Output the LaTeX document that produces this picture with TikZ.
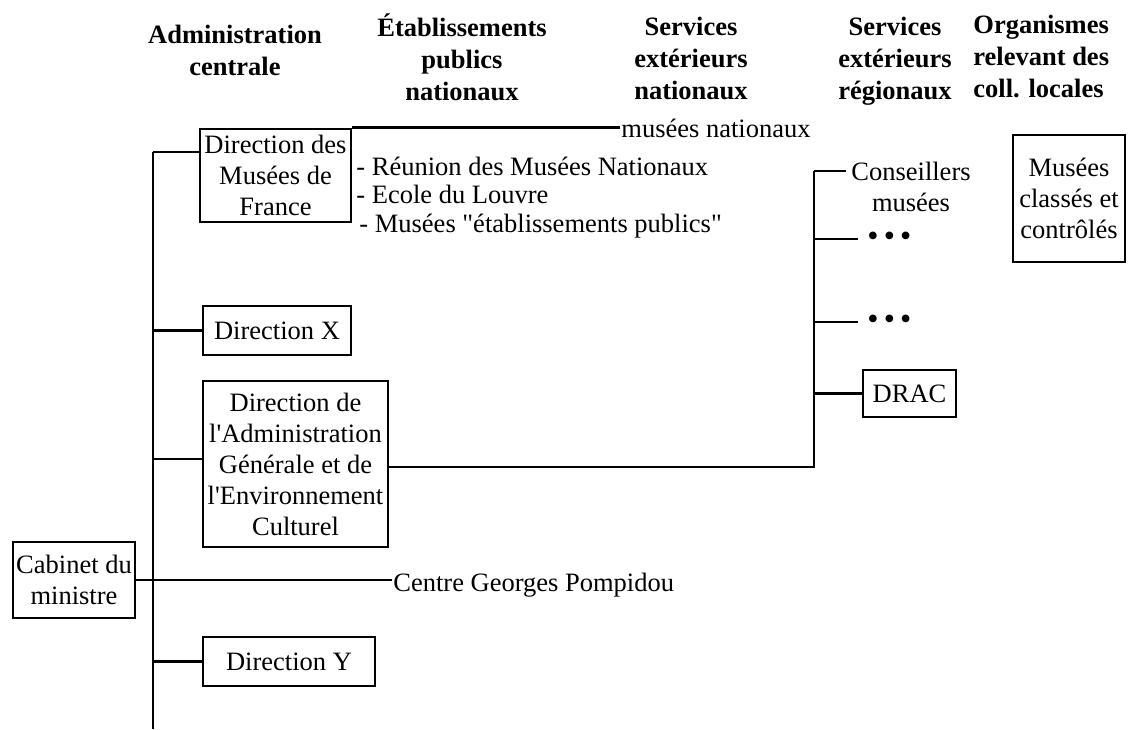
\documentclass[tikz,border=0pt]{standalone}
\usepackage{fontspec}
\setmainfont{Liberation Serif}[Ligatures=TeXOff]
\begin{document}
\begin{tikzpicture}[x=0.5pt,y=-0.5pt,
  line width=1.4pt,
  txt/.style={font=\fontsize{13.25}{15.5}\selectfont},
  box/.style={txt,draw,line width=1.4pt,align=center,inner sep=1pt},
  hdr/.style={font=\bfseries\fontsize{13.25}{16}\selectfont,inner sep=0pt},
  lbl/.style={txt,inner sep=0pt,anchor=base west},
  dots/.style={font=\fontsize{16}{16}\selectfont,inner sep=0pt,anchor=west}]
\useasboundingbox (0,0) rectangle (1146,729);
% headers (base anchor = baseline of last line)
\node[hdr,align=center,anchor=base] (hac) at (235,75) {Administration\\centrale};
\node[hdr,align=center,anchor=base] (hepn) at (462,100) {Établissements\\publics\\nationaux};
\node[hdr,align=center,anchor=base] (hsen) at (691,99) {Services\\extérieurs\\nationaux};
\node[hdr,align=center,anchor=base] (hser) at (895,99) {Services\\extérieurs\\régionaux};
\node[hdr,align=left,anchor=base west] (horg) at (972,97) {Organismes\\relevant des\\coll. locales};
% boxes
\node[box,minimum width=75.5pt,minimum height=46.5pt] (dmf) at (275.5,175.5) {Direction des\\Musées de\\France};
\node[box,minimum width=74pt,minimum height=24.5pt] (dirx) at (277,330.5) {Direction X};
\node[box,minimum width=92.5pt,minimum height=83pt] (dagec) at (295.5,464) {Direction de\\l'Administration\\Générale et de\\l'Environnement\\Culturel};
\node[box,minimum width=61pt,minimum height=38pt] (cab) at (74,580) {Cabinet du\\ministre};
\node[box,minimum width=86pt,minimum height=24.5pt] (diry) at (289,661.5) {Direction Y};
\node[box,minimum width=46.5pt,minimum height=23.5pt] (drac) at (909.5,393.5) {DRAC};
\node[box,minimum width=56pt,minimum height=63.5pt] (mus) at (1069,198.5) {Musées\\classés et\\contrôlés};
% labels
\node[lbl] (mn) at (620,137) {musées nationaux};
\node[lbl] (rmn) at (355,175) {- Réunion des Musées Nationaux};
\node[lbl] (edl) at (355,203) {- Ecole du Louvre};
\node[lbl] (mep) at (358,232) {- Musées "établissements publics"};
\node[lbl] (cgp) at (392,591) {Centre Georges Pompidou};
\node[txt,align=center,anchor=base,inner sep=0pt] (cons) at (911,211) {Conseillers\\musées};
\node[dots] (d1) at (866,239) {\textbullet\hspace{2.6pt}\textbullet\hspace{2.6pt}\textbullet};
\node[dots] (d2) at (866,322) {\textbullet\hspace{2.6pt}\textbullet\hspace{2.6pt}\textbullet};
% coordinates
\coordinate (vtop) at (153,152);
\coordinate (vbot) at (153,729);
\coordinate (rtop) at (814,171);
% left tree
\draw (vtop) -- (vbot);
\draw (vtop) -- (vtop -| dmf.west);
\draw (dirx.west -| vtop) -- (dirx.west);
\draw ([yshift=2.5pt]dagec.west -| vtop) -- ([yshift=2.5pt]dagec.west);
\draw (diry.west -| vtop) -- (diry.west);
\draw (cab.east) -- (cab.east -| cgp.west);
\draw (dmf.north east) -- (mn.west |- dmf.north east);
% right tree
\draw ([yshift=-1.5pt]dagec.east) -| (rtop);
\draw (rtop) -- ([xshift=-2pt]rtop -| cons.west);
\draw (rtop |- d1) -- ([xshift=-4pt]d1.west);
\draw (rtop |- d2) -- ([xshift=-4pt]d2.west);
\draw (rtop |- drac) -- (drac.west);
\end{tikzpicture}
\end{document}
